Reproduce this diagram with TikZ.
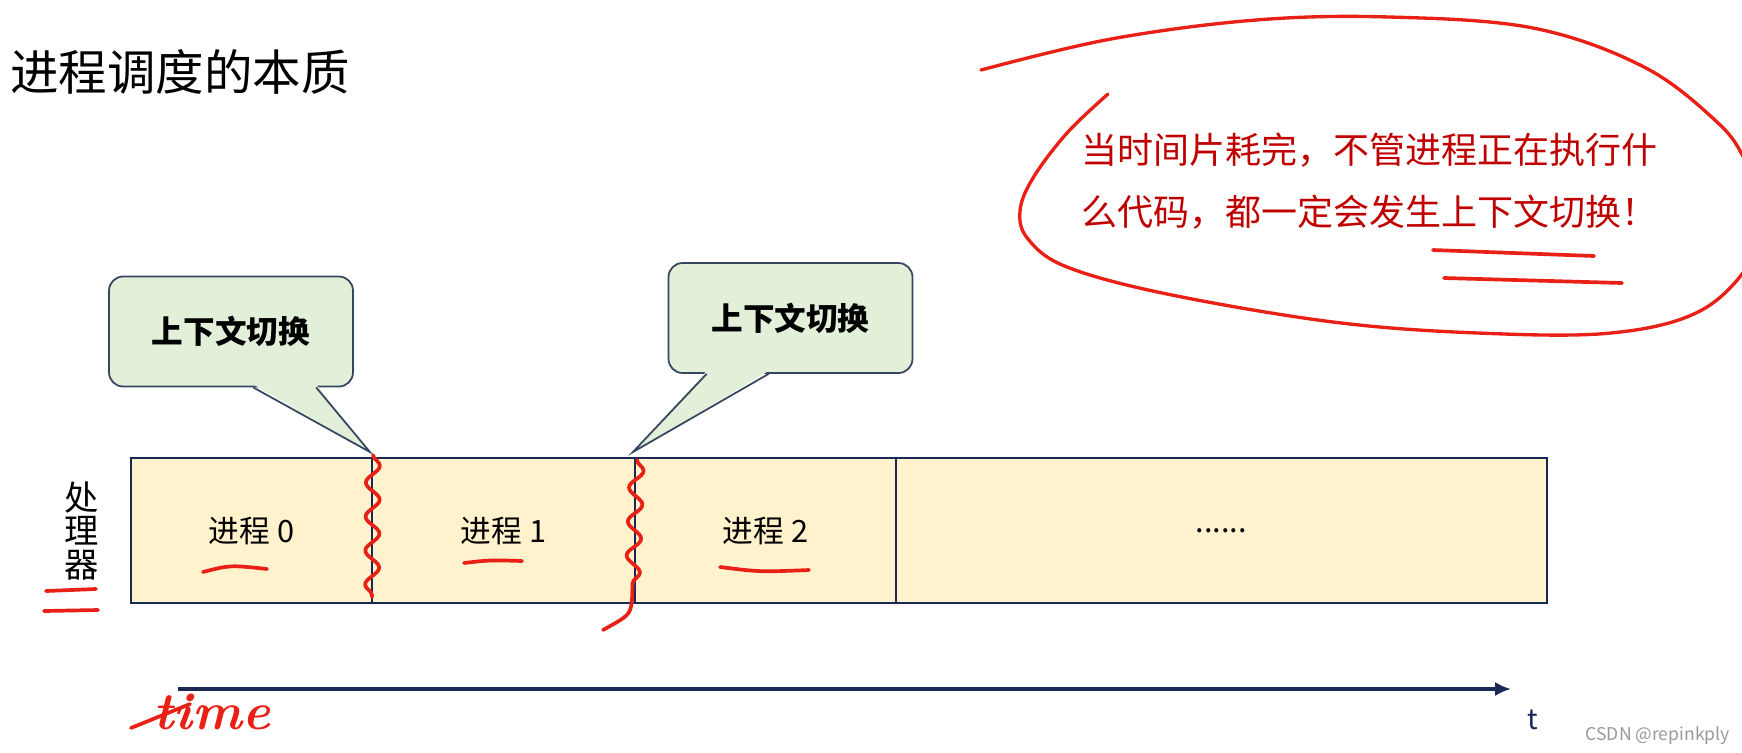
\documentclass[tikz,border=0pt]{standalone}
\usepackage{fontspec}
\newfontfamily\cjk{Noto Sans CJK SC}
\usepackage{tikz}
\usetikzlibrary{arrows.meta, positioning, calc, decorations.pathmorphing}
\usepackage{xcolor}
\definecolor{navy}{RGB}{25,40,85}
\definecolor{boxedge}{RGB}{55,70,95}
\definecolor{calloutgreen}{RGB}{226,239,217}
\definecolor{procyellow}{RGB}{255,242,204}
\definecolor{penred}{RGB}{232,32,22}
\definecolor{textred}{RGB}{192,0,0}

\begin{document}
\begin{tikzpicture}[
    x=0.02cm, y=-0.02cm,
    callbox/.style={
        draw=boxedge,
        line width=1pt,
        fill=calloutgreen,
        rounded corners=8pt,
        minimum width=4.88cm,
        minimum height=2.2cm,
        font={\cjk\bfseries\fontsize{18}{22}\selectfont}
    },
    procbox/.style={
        draw=navy,
        line width=1.3pt,
        fill=procyellow,
        minimum height=2.9cm,
        inner sep=0pt,
        outer sep=0pt,
        font={\cjk\fontsize{17.5}{20}\selectfont}
    },
    redpen/.style={draw=penred, line width=2.1pt, line cap=round, line join=round},
    squiggle/.style={redpen, decorate, decoration={snake, amplitude=0.14cm, segment length=0.68cm}},
    timeline/.style={-{Latex[length=9pt,width=8pt]}, draw=navy, line width=2.4pt}
]
\useasboundingbox (0,0) rectangle (1742,752);

% ---------- TITLE
\node[anchor=west, inner sep=0pt, font={\cjk\fontsize{27.6}{32}\selectfont}] (title) at (10,72) {进程调度的本质};

% ---------- PROCESSOR ROW
\node[procbox, minimum width=4.82cm, anchor=west] (proc0) at (131,530.5) {进程 0};
\node[procbox, minimum width=5.26cm, right=0pt of proc0] (proc1) {进程 1};
\node[procbox, minimum width=5.22cm, right=0pt of proc1] (proc2) {进程 2};
\node[procbox, minimum width=13.02cm, right=0pt of proc2] (procdots) {......};

\node[align=center, inner sep=0pt, font={\cjk\fontsize{19.5}{19}\selectfont}] (cpu) at (82,531) {处\\理\\器};

% ---------- CALLOUTS
\node[callbox] (switch0) at (231,331.5) {上下文切换};
\node[callbox] (switch1) at (790.5,318) {上下文切换};

\coordinate (tip0) at ($(proc0.north east)+(-2,-6)$);
\coordinate (tip1) at ($(proc1.north east)+(-2,-6)$);

\fill[calloutgreen] ($(switch0.south west)+(145,-3)$) -- (tip0) -- ($(switch0.south west)+(208,-3)$) -- cycle;
\draw[boxedge, line width=1pt] ($(switch0.south west)+(145,0)$) -- (tip0) -- ($(switch0.south west)+(208,0)$);
\fill[calloutgreen] ($(switch1.south west)+(39,-3)$) -- (tip1) -- ($(switch1.south west)+(101,-3)$) -- cycle;
\draw[boxedge, line width=1pt] ($(switch1.south west)+(39,0)$) -- (tip1) -- ($(switch1.south west)+(101,0)$);

% ---------- TIME AXIS
\coordinate (tstart) at (178,689);
\coordinate (tend) at (1511,689);
\draw[timeline] (tstart) -- (tend);
\node[text=navy, font={\cjk\fontsize{16}{18}\selectfont}] (tlabel) at (1533,720) {t};

% ---------- RED NOTE
\node[anchor=west, align=left, inner sep=0pt, text=textred, font={\cjk\fontsize{20.5}{35.7}\selectfont}] (note) at (1081,181)
    {当时间片耗完，不管进程正在执行什\\么代码，都一定会发生上下文切换！};

\begin{scope}
\clip (0,0) rectangle (1742,752);
\draw[redpen, line width=1.9pt] plot[smooth, tension=0.6] coordinates {
    (1108,94) (1067,133) (1033,178) (1020,211) (1028,239) (1067,267) (1167,294)
    (1333,322) (1478,333) (1611,333) (1700,311) (1752,260) (1765,210) (1745,160)
    (1717,122) (1644,67) (1533,28) (1389,17) (1256,20) (1111,39) (981,70)};
\end{scope}
\draw[redpen] (1433,250) -- (1594,256);
\draw[redpen] (1444,278) -- (1622,283);

% ---------- PEN MARKS
\draw[squiggle] (373,455) -- (372,597);
\draw[squiggle] (637,460) -- (632,600);
\draw[redpen] (632,600) .. controls (630,615) .. (603,630);

\draw[redpen] (203,572) .. controls (230,565) .. (267,569);
\draw[redpen] (464,563) .. controls (490,560) .. (522,561);
\draw[redpen] (720,567) .. controls (760,572) .. (809,570);

\draw[redpen] (46,591) -- (96,589);
\draw[redpen] (44,611) -- (98,610);

\node[text=penred, font={\itshape\bfseries\fontsize{30}{30}\selectfont}] (timescrawl) at (212,712) {time};
\draw[redpen] (131,728) -- (190,704);

% ---------- WATERMARK
\node[anchor=east, text=gray!80, font={\cjk\fontsize{10}{12}\selectfont}] (mark) at (1736,736) {CSDN @repinkply};

\end{tikzpicture}
\end{document}
